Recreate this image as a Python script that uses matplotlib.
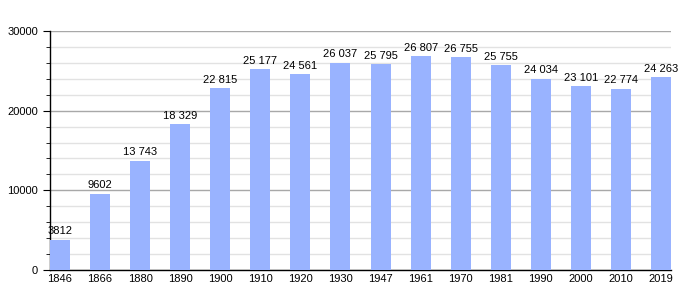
import matplotlib
matplotlib.use("Agg")
import matplotlib.pyplot as plt
from matplotlib.ticker import MultipleLocator

years = ["1846", "1866", "1880", "1890", "1900", "1910", "1920", "1930",
         "1947", "1961", "1970", "1981", "1990", "2000", "2010", "2019"]
population = [3812, 9602, 13743, 18329, 22815, 25177, 24561, 26037,
              25795, 26807, 26755, 25755, 24034, 23101, 22774, 24263]


def fmt(v):
    # thin-space thousands like the source, except 4-digit numbers
    if v < 10000:
        return str(v)
    return "{:,}".format(v).replace(",", " ")


plt.rcParams['font.family'] = ['Liberation Sans', 'DejaVu Sans']

fig = plt.figure(figsize=(7, 3), dpi=100)
ax = fig.add_axes([50 / 700, 30 / 300, 621 / 700, 239 / 300])

x = list(range(len(years)))
ax.bar(x, population, width=0.5, color="#99b3ff", zorder=3)

for xi, v in zip(x, population):
    ax.text(xi, v + 400, fmt(v), ha="center", va="bottom", fontsize=8, zorder=4)

ax.set_xlim(-0.25, len(years) - 0.75)
ax.set_ylim(0, 30000)
ax.set_xticks(x)
ax.set_xticklabels(years)
ax.yaxis.set_major_locator(MultipleLocator(10000))
ax.yaxis.set_minor_locator(MultipleLocator(2000))
ax.grid(axis="y", which="major", color="#a8a8a8", linewidth=1, zorder=0)
ax.grid(axis="y", which="minor", color="#e2e2e2", linewidth=1, zorder=0)

for s in ["top", "right"]:
    ax.spines[s].set_visible(False)
ax.spines["left"].set_linewidth(1)
ax.spines["bottom"].set_linewidth(1)
ax.tick_params(axis="y", which="major", length=5, labelsize=8)
ax.tick_params(axis="y", which="minor", length=3)
ax.tick_params(axis="x", length=0, labelsize=8, pad=3)

fig.savefig("out.png", dpi=100)
